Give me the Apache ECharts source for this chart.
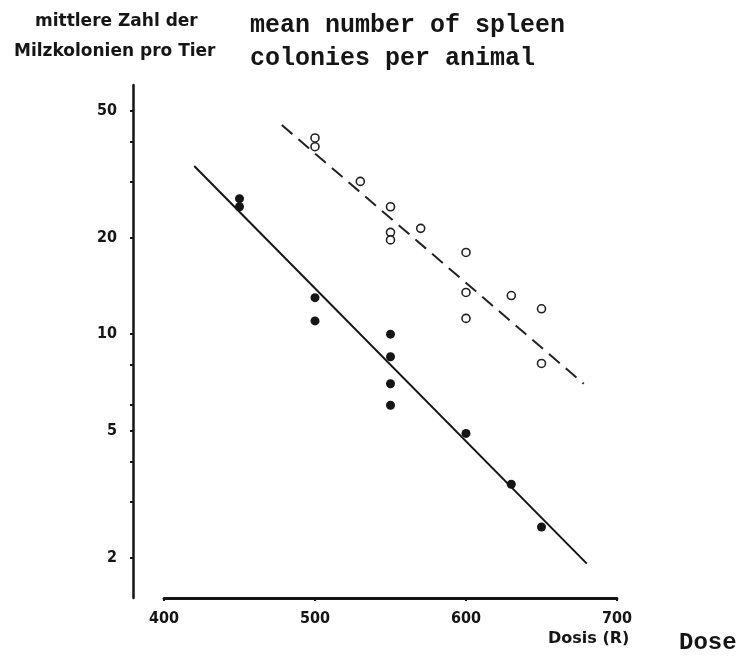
<!DOCTYPE html>
<html>
<head>
<meta charset="utf-8">
<style>
  html, body { margin: 0; padding: 0; background: #fff; }
  #chart { width: 741px; height: 659px; }
</style>
<script src="https://cdn.jsdelivr.net/npm/echarts@6/dist/echarts.min.js"></script>
</head>
<body>
<div id="chart"></div>
<script>
// Spleen colony counts versus radiation dose (log scale)
const doseTicks = [400, 500, 600, 700];
const yLabelValues = [2, 5, 10, 20, 50];
const yTickValues = [2, 3, 4, 5, 6, 8, 10, 20, 30, 40, 50];

// filled dots: [dose, colonies]
const filledDose   = [450, 450, 500, 500, 550, 550, 550, 550, 600, 630, 650];
const filledCount  = [26.5, 25, 13, 11, 10, 8.5, 7.0, 6.0, 4.9, 3.4, 2.5];

// open circles: [dose, colonies]
const openDose  = [500, 500, 530, 550, 550, 550, 570, 600, 600, 600, 630, 650, 650];
const openCount = [41, 38.5, 30, 25, 20.8, 19.7, 21.4, 18, 13.5, 11.2, 13.2, 12, 8.1];

// fitted lines: endpoints [dose, colonies]
const solidFitDose  = [420, 680];
const solidFitCount = [33.5, 1.92];
const dashedFitDose  = [478, 678];
const dashedFitCount = [45, 7.0];

const zip = (a, b) => a.map((v, i) => [v, b[i]]);

const ink = '#151515';
const narrow = "'DejaVu Sans Condensed', 'Liberation Sans Narrow', sans-serif";
const wide = "'DejaVu Sans', 'Liberation Sans', sans-serif";
const mono = "'Liberation Mono', 'DejaVu Sans Mono', monospace";

const chart = echarts.init(document.getElementById('chart'), null, { renderer: 'canvas' });

chart.setOption({
  backgroundColor: '#ffffff',
  animation: false,
  grid: { left: 164, right: 124, top: 85, bottom: 61, containLabel: false },
  xAxis: {
    type: 'value',
    min: doseTicks[0],
    max: doseTicks[doseTicks.length - 1],
    interval: 100,
    axisLine: { show: true, lineStyle: { color: ink, width: 3 } },
    axisTick: { show: true, length: 3, inside: false, lineStyle: { color: ink, width: 2 } },
    axisLabel: {
      show: true, margin: 13, color: ink,
      fontFamily: narrow, fontWeight: 'bold', fontSize: 16
    },
    splitLine: { show: false }
  },
  yAxis: {
    type: 'log',
    logBase: 10,
    min: 1.5,
    max: 60,
    offset: 31,
    axisLine: { show: true, lineStyle: { color: ink, width: 2.5 } },
    axisTick: {
      show: true, length: 3, customValues: yTickValues,
      lineStyle: { color: ink, width: 2 }
    },
    axisLabel: {
      show: true, margin: 16, color: ink, customValues: yLabelValues,
      fontFamily: narrow, fontWeight: 'bold', fontSize: 16
    },
    splitLine: { show: false },
    minorTick: { show: false }
  },
  series: [
    {
      type: 'line',
      data: zip(solidFitDose, solidFitCount),
      symbol: 'none',
      lineStyle: { color: ink, width: 2 },
      z: 2
    },
    {
      type: 'line',
      data: zip(dashedFitDose, dashedFitCount),
      symbol: 'none',
      lineStyle: { color: '#222', width: 2, type: [14, 8] },
      z: 2
    },
    {
      type: 'scatter',
      data: zip(filledDose, filledCount),
      symbol: 'circle',
      symbolSize: 9,
      itemStyle: { color: ink, opacity: 1 },
      z: 3
    },
    {
      type: 'scatter',
      data: zip(openDose, openCount),
      symbol: 'circle',
      symbolSize: 8,
      itemStyle: { color: '#ffffff', borderColor: '#222', borderWidth: 1.6, opacity: 1 },
      z: 3
    }
  ],
  graphic: [
    {
      type: 'text', left: 35, top: 13,
      style: { text: 'mittlere Zahl der', fill: ink, font: 'bold 17px ' + wide }
    },
    {
      type: 'text', left: 14, top: 43,
      style: { text: 'Milzkolonien pro Tier', fill: ink, font: 'bold 17px ' + wide }
    },
    {
      type: 'text', left: 250, top: 13,
      style: { text: 'mean number of spleen', fill: ink, font: 'bold 25px ' + mono }
    },
    {
      type: 'text', left: 250, top: 46,
      style: { text: 'colonies per animal', fill: ink, font: 'bold 25px ' + mono }
    },
    {
      type: 'text', left: 548, top: 631,
      style: { text: 'Dosis (R)', fill: ink, font: 'bold 16px ' + wide }
    },
    {
      type: 'text', left: 679, top: 631,
      style: { text: 'Dose', fill: ink, font: 'bold 24px ' + mono }
    }
  ]
});
</script>
</body>
</html>
